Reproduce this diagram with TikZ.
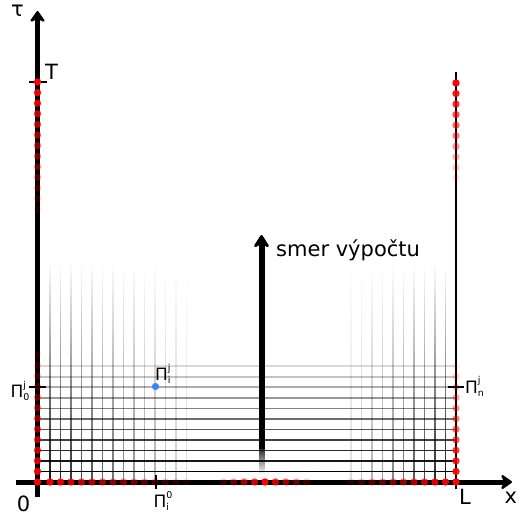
\documentclass[tikz,border=0pt]{standalone}
\usepackage{fontspec}
\setmainfont{DejaVu Sans}
\usetikzlibrary{arrows.meta,fadings}
\tikzfading[name=fadeup, top color=transparent!100, bottom color=transparent!0]
\tikzfading[name=fadedown, top color=transparent!0, bottom color=transparent!100]
\newcommand\PiLab[2]{Π\rlap{\raisebox{9.5pt}{\fontsize{9.5}{9.5}\selectfont #1}}\raisebox{-3pt}{\fontsize{9.5}{9.5}\selectfont #2}}
\begin{document}
\begin{tikzpicture}[x=1pt,y=-1pt,
  axis/.style={line width=5pt,-{Stealth[round,length=13pt,width=18pt]}},
  gline/.style={line width=1.6pt},
  tickmark/.style={line width=2pt},
  rdot/.style={fill=red},
  bdot/.style={fill={rgb,255:red,51;green,136;blue,255}},
  lab/.style={font=\fontsize{21}{21}\selectfont,inner sep=0pt,anchor=base west},
  plab/.style={font=\fontsize{17}{17}\selectfont,inner sep=0pt,anchor=base west}]
\useasboundingbox (0,0) rectangle (518,516);

% faded vertical grid lines
\begin{scope}
  \clip (0,0) rectangle (518,482);
  \foreach \k [evaluate=\k as \xx using 39.5+10.5*\k, evaluate=\k as \oo using 1-(\k-1)*0.065] in {1,...,14}
    \fill[black,fill opacity=\oo,path fading=fadeup] (\xx-0.8,262) rectangle (\xx+0.8,498);
  \foreach \m [evaluate=\m as \xx using 456-10.5*\m, evaluate=\m as \oo using 1-(\m-1)*0.095] in {1,...,10}
    \fill[black,fill opacity=\oo,path fading=fadeup] (\xx-0.8,264) rectangle (\xx+0.8,498);
\end{scope}

% horizontal grid lines
\foreach \k [evaluate=\k as \yy using 482.2-10.55*\k, evaluate=\k as \oo using 1-(\k-1)*0.085] in {1,...,11}
  \draw[gline,draw opacity=\oo] (37.5,\yy) -- (456,\yy);

% axes and boundary
\coordinate (ybot) at (37.5,497);
\coordinate (ytop) at (37.5,11);
\coordinate (xleft) at (16,482);
\coordinate (xright) at (512,482);
\coordinate (Rtop) at (456,72.5);
\coordinate (Rbot) at (456,489);
\draw[axis] (ybot) -- (ytop);
\draw[axis] (xleft) -- (xright);
\draw[line width=2pt] (Rtop) -- (Rbot);

% direction arrow
\coordinate (Abot) at (261.5,449);
\coordinate (Atop) at (261.5,235);
\draw[line width=6pt,-{Stealth[round,length=15pt,width=19pt]}] (Abot) -- (Atop);
\fill[path fading=fadedown] (258.5,443) rectangle (264.5,474);

% T tick
\draw[tickmark] (29,82) -- (46.5,82);

% red dots
\foreach \j [evaluate=\j as \oo using 1-\j*0.075] in {0,...,12}
  \fill[rdot,fill opacity=\oo] (37.5,{82+10.6*\j}) circle[radius=3.7];
\foreach \j [evaluate=\j as \oo using 1-\j*0.075] in {0,...,12}
  \fill[rdot,fill opacity=\oo] (37.5,{482-10.6*\j}) circle[radius=3.7];
\foreach \j [evaluate=\j as \oo using 1-\j*0.1] in {0,...,9}
  \fill[rdot,fill opacity=\oo] (456,{83+10.55*\j}) circle[radius=3.7];
\foreach \j [evaluate=\j as \oo using 1-\j*0.085] in {0,...,11}
  \fill[rdot,fill opacity=\oo] (456,{482-10.55*\j}) circle[radius=3.7];
\foreach \j [evaluate=\j as \oo using 1-\j*0.065] in {1,...,14}
  \fill[rdot,fill opacity=\oo] ({39.5+10.5*\j},482) circle[radius=3.7];
\foreach \j [evaluate=\j as \oo using 1-\j*0.085] in {1,...,10}
  \fill[rdot,fill opacity=\oo] ({456-10.5*\j},482) circle[radius=3.7];
\foreach \j [evaluate=\j as \oo using 1-abs(\j)*0.2] in {-4,...,4}
  \fill[rdot,fill opacity=\oo] ({265+10.45*\j},482) circle[radius=3.7];

% other ticks
\draw[tickmark] (29,387) -- (46,387);
\draw[tickmark] (448,387) -- (463.5,387);
\draw[tickmark] (155.5,475) -- (155.5,489);

% blue point
\fill[bdot] (155.5,386.5) circle[radius=3.6];

% labels
\node[lab] (tau) at (11,17) {τ};
\node[lab] (T) at (45,80) {T};
\node[lab] (zero) at (16.6,511) {0};
\node[lab] (L) at (459,504) {L};
\node[lab] (xlab) at (504.5,503) {x};
\node[lab] (dir) at (276,256) {smer výpočtu};
\node[plab] (p0j) at (10.5,397.5) {\PiLab{j}{0}};
\node[plab] (pij) at (155,380.5) {\PiLab{j}{i}};
\node[plab] (pi0) at (153.5,507.5) {\PiLab{0}{i}};
\node[plab] (pnj) at (465,393) {\PiLab{j}{n}};
\end{tikzpicture}
\end{document}
